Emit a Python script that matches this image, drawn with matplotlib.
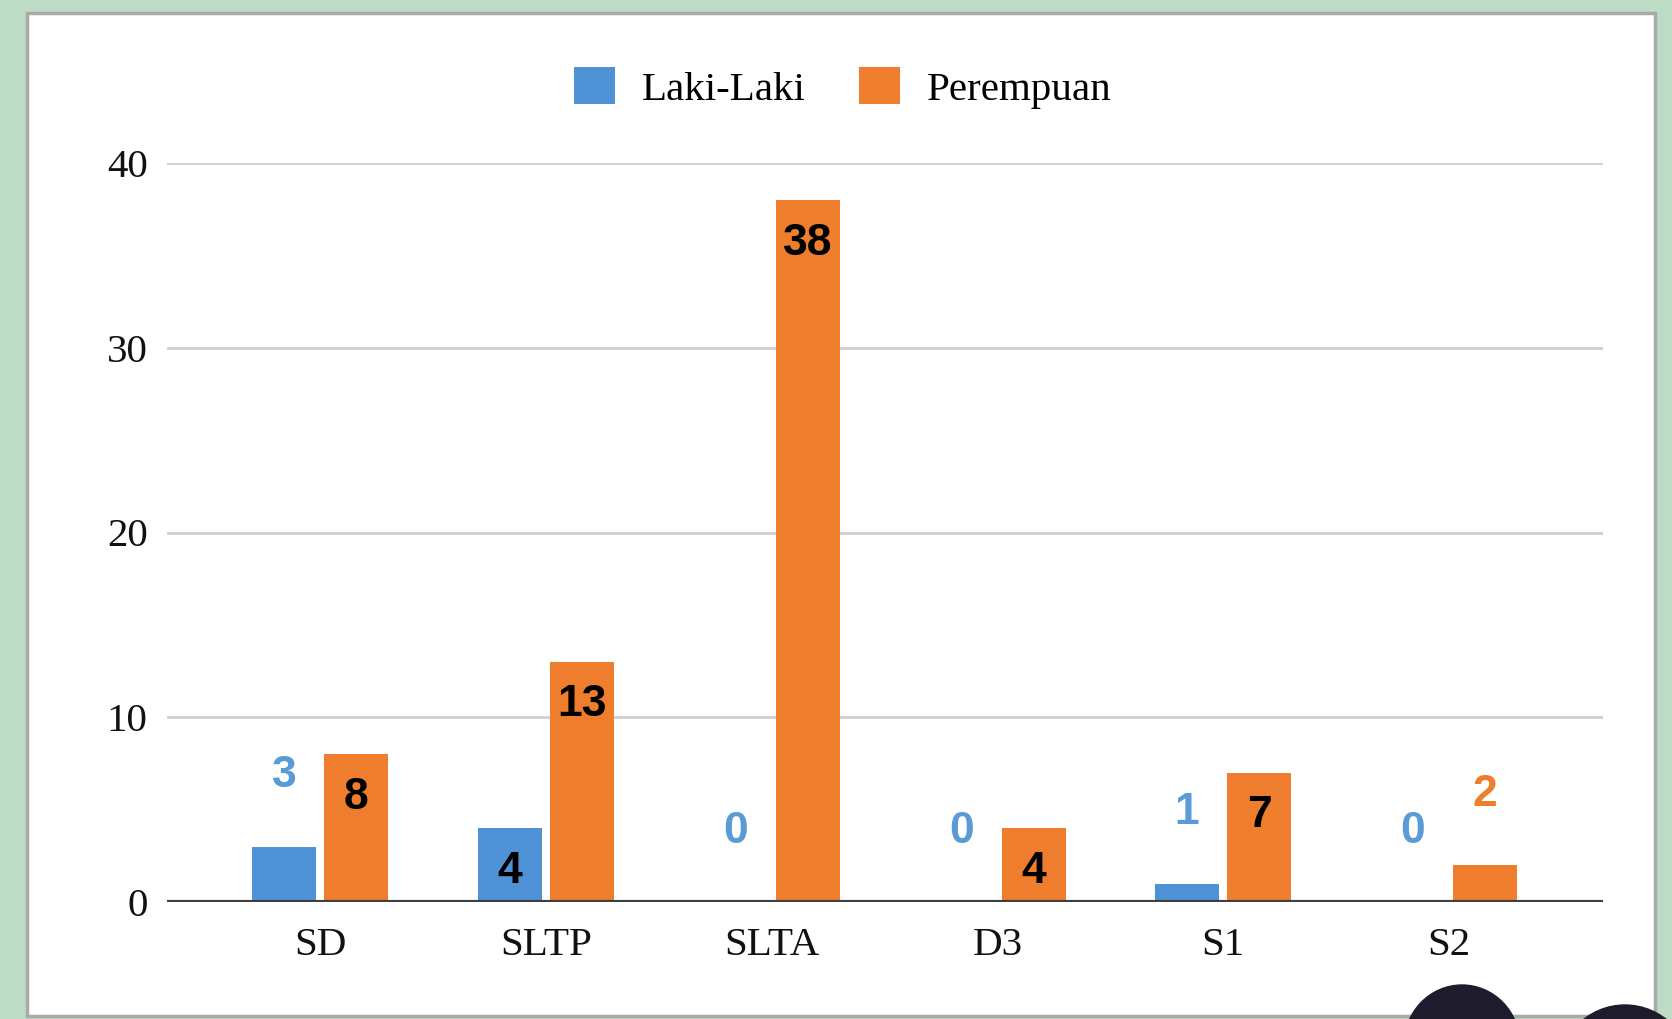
import matplotlib
matplotlib.use("Agg")
import matplotlib.pyplot as plt
from matplotlib.patches import Rectangle, Ellipse
import numpy as np

# Data
CATEGORIES = ["SD", "SLTP", "SLTA", "D3", "S1", "S2"]
LAKI_LAKI = [3, 4, 0, 0, 1, 0]
PEREMPUAN = [8, 13, 38, 4, 7, 2]
SERIES_NAMES = ["Laki-Laki", "Perempuan"]
Y_TICKS = [0, 10, 20, 30, 40]

BLUE = "#4f92d6"
BLUE_TEXT = "#5b9bd5"
ORANGE = "#ee7d2e"
GREEN_BG = "#bddcc5"

W, H = 1672, 1019
DPI = 100

fig = plt.figure(figsize=(W / DPI, H / DPI), dpi=DPI, facecolor=GREEN_BG)


def px_rect(x0, y0, x1, y1):
    """pixel box (top-left origin) -> figure fraction [l, b, w, h]"""
    return [x0 / W, 1 - y1 / H, (x1 - x0) / W, (y1 - y0) / H]


# white panel with grey border
l, b, w, h = px_rect(27, 13, 1655, 1016)
fig.add_artist(Rectangle((l, b), w, h, transform=fig.transFigure,
                         facecolor="white", edgecolor="#a9a9a9",
                         linewidth=2.5, zorder=0))

ax = fig.add_axes(px_rect(167, 163, 1603, 902))
ax.set_facecolor("none")

x = np.arange(len(CATEGORIES))
bar_w = 0.283
offset = 0.16

bars_l = ax.bar(x - offset, LAKI_LAKI, width=bar_w, color=BLUE,
                label=SERIES_NAMES[0], zorder=3)
bars_p = ax.bar(x + offset, PEREMPUAN, width=bar_w, color=ORANGE,
                label=SERIES_NAMES[1], zorder=3)

ax.set_xlim(-0.678, 5.682)
ax.set_ylim(0, 40)
ax.set_yticks(Y_TICKS)
ax.set_xticks(x)
ax.set_xticklabels(CATEGORIES)

serif = ["Liberation Serif", "DejaVu Serif"]
for lbl in ax.get_xticklabels() + ax.get_yticklabels():
    lbl.set_fontfamily(serif)
    lbl.set_fontsize(29.5)
    lbl.set_color("#111111")
ax.tick_params(axis="both", length=0)
ax.tick_params(axis="y", pad=14)
ax.tick_params(axis="x", pad=18)

for s in ax.spines.values():
    s.set_visible(False)
ax.grid(axis="y", color="#cfcfcf", linewidth=2, zorder=0)
ax.axhline(0, color="#3f3f3f", linewidth=3, zorder=4)

# value labels: inside (black) when the bar is tall enough, otherwise above
for bars, vals, col in [(bars_l, LAKI_LAKI, BLUE_TEXT), (bars_p, PEREMPUAN, ORANGE)]:
    for bar, v in zip(bars, vals):
        cx = bar.get_x() + bar.get_width() / 2
        if v >= 4:
            ax.annotate(str(v), (cx, v), xytext=(0, -31), textcoords="offset points",
                        ha="center", va="center", fontsize=32, fontweight="bold",
                        family="Liberation Sans", color="black", zorder=5)
        else:
            ax.annotate(str(v), (cx, v), xytext=(0, 51), textcoords="offset points",
                        ha="center", va="center", fontsize=32, fontweight="bold",
                        family="Liberation Sans", color=col, zorder=5)

fig.legend(handles=[bars_l, bars_p], labels=SERIES_NAMES, loc="center",
           bbox_to_anchor=(843 / W, 1 - 88 / H), ncol=2, frameon=False,
           prop={"family": serif, "size": 29.5},
           handlelength=1.0, handleheight=1.0, handletextpad=0.65,
           columnspacing=1.3)

# dark decorative blobs at the bottom right
for cx, cy, rx, ry in [(1462, 1045, 116, 120), (1625, 1075, 136, 140)]:
    fig.add_artist(Ellipse((cx / W, 1 - cy / H), rx / W, ry / H,
                           transform=fig.transFigure, color="#1e1c2c", zorder=10))

fig.savefig("out.png", dpi=DPI, facecolor=GREEN_BG)
